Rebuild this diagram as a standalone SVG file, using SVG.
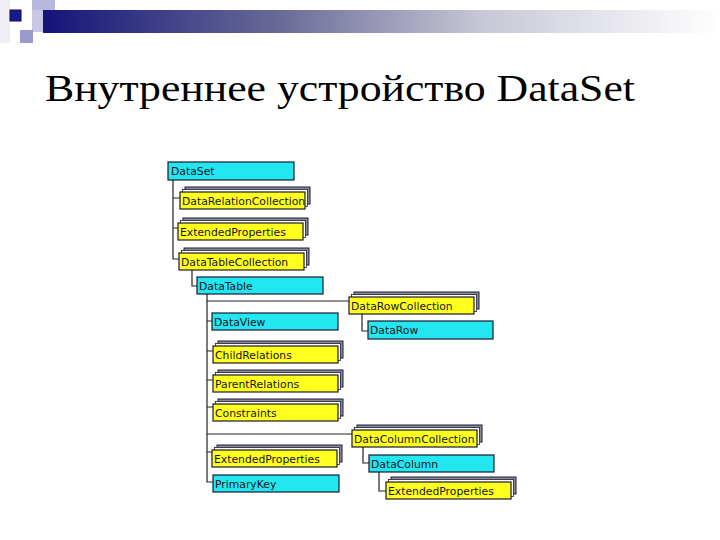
<svg xmlns="http://www.w3.org/2000/svg" xmlns:xlink="http://www.w3.org/1999/xlink" width="720" height="540" viewBox="0 0 720 540">
  <defs>
    <linearGradient id="bar" x1="0" y1="0" x2="1" y2="0">
      <stop offset="0" stop-color="#14147a"/>
      <stop offset="0.35" stop-color="#6a6a98"/>
      <stop offset="0.65" stop-color="#c8c8d6"/>
      <stop offset="1" stop-color="#ffffff"/>
    </linearGradient>
    <g id="stack">
      <rect x="5" y="-5" width="125" height="17" class="back"/>
      <rect x="2.5" y="-2.5" width="125" height="17" class="mid"/>
      <rect x="0" y="0" width="125" height="17" class="yel"/>
    </g>
  </defs>
  <style>
    .cyan { fill: #22e6f0; stroke: #1a1a30; stroke-width: 1.2; }
    .yel { fill: #ffff1e; stroke: #1a1a30; stroke-width: 1.2; }
    .back { fill: #8c8c8c; stroke: #1a1a40; stroke-width: 1; }
    .mid { fill: #ffffff; stroke: #1a1a40; stroke-width: 0.8; }
    .lbl { font-family: "DejaVu Sans", Verdana, sans-serif; font-size: 10.8px; fill: #151520; }
    .conn { fill: none; stroke: #222; stroke-width: 1.2; }
    .title { font-family: "Liberation Serif", "Times New Roman", serif; font-size: 37px; fill: #000; }
  </style>
  <rect width="720" height="540" fill="#ffffff"/>

  <!-- decoration -->
  <g id="decoration">
    <rect x="0" y="0" width="10" height="43" fill="#eeeef4"/>
    <rect x="32" y="0" width="23" height="32" fill="#c8c8e4"/>
    <rect x="43" y="10" width="677" height="23" fill="url(#bar)"/>
    <rect x="32" y="0" width="23" height="10" fill="#b8b8dc"/>
    <rect x="10" y="10" width="11" height="11" fill="#1a1a90" stroke="#0a0a50" stroke-width="1"/>
    <rect x="20" y="30" width="13" height="13" fill="#9a9acc"/>
  </g>

  <text class="title" x="45" y="101" textLength="590" lengthAdjust="spacingAndGlyphs">Внутреннее устройство DataSet</text>

  <g id="connectors">
    <path class="conn" d="M173,180 V259 H179 M173,198 H180 M173,228 H178"/>
    <path class="conn" d="M192,270 V286 H197"/>
    <path class="conn" d="M207,294 V482 H213 M207,301 H349 M207,321 H212 M207,351 H213 M207,380 H213 M207,407 H213 M207,434 H352 M207,452 H212"/>
    <path class="conn" d="M362,314 V331 H368"/>
    <path class="conn" d="M363,447 V463 H369"/>
    <path class="conn" d="M379,472 V491 H386"/>
  </g>

  <g id="n-dataset">
    <rect class="cyan" x="168" y="162" width="126" height="18"/>
    <text class="lbl" x="171" y="175">DataSet</text>
  </g>
  <g id="n-datarelationcollection">
    <use xlink:href="#stack" x="180" y="192"/>
    <text class="lbl" x="182" y="205">DataRelationCollection</text>
  </g>
  <g id="n-extendedproperties-ds">
    <use xlink:href="#stack" x="178" y="223"/>
    <text class="lbl" x="180" y="236">ExtendedProperties</text>
  </g>
  <g id="n-datatablecollection">
    <use xlink:href="#stack" x="179" y="253"/>
    <text class="lbl" x="181" y="266">DataTableCollection</text>
  </g>
  <g id="n-datatable">
    <rect class="cyan" x="197" y="277" width="126" height="17"/>
    <text class="lbl" x="199" y="290">DataTable</text>
  </g>
  <g id="n-datarowcollection">
    <use xlink:href="#stack" x="349" y="297"/>
    <text class="lbl" x="351" y="310">DataRowCollection</text>
  </g>
  <g id="n-datarow">
    <rect class="cyan" x="368" y="321" width="125" height="18"/>
    <text class="lbl" x="370" y="334">DataRow</text>
  </g>
  <g id="n-dataview">
    <rect class="cyan" x="212" y="313" width="126" height="17"/>
    <text class="lbl" x="214" y="326">DataView</text>
  </g>
  <g id="n-childrelations">
    <use xlink:href="#stack" x="213" y="346"/>
    <text class="lbl" x="215" y="359">ChildRelations</text>
  </g>
  <g id="n-parentrelations">
    <use xlink:href="#stack" x="213" y="375"/>
    <text class="lbl" x="215" y="388">ParentRelations</text>
  </g>
  <g id="n-constraints">
    <use xlink:href="#stack" x="213" y="404"/>
    <text class="lbl" x="215" y="417">Constraints</text>
  </g>
  <g id="n-datacolumncollection">
    <use xlink:href="#stack" x="352" y="430"/>
    <text class="lbl" x="354" y="443">DataColumnCollection</text>
  </g>
  <g id="n-extendedproperties-dt">
    <use xlink:href="#stack" x="212" y="450"/>
    <text class="lbl" x="214" y="463">ExtendedProperties</text>
  </g>
  <g id="n-primarykey">
    <rect class="cyan" x="213" y="475" width="126" height="17"/>
    <text class="lbl" x="215" y="488">PrimaryKey</text>
  </g>
  <g id="n-datacolumn">
    <rect class="cyan" x="369" y="455" width="125" height="17"/>
    <text class="lbl" x="371" y="468">DataColumn</text>
  </g>
  <g id="n-extendedproperties-dc">
    <use xlink:href="#stack" x="386" y="482"/>
    <text class="lbl" x="388" y="495">ExtendedProperties</text>
  </g>
</svg>
